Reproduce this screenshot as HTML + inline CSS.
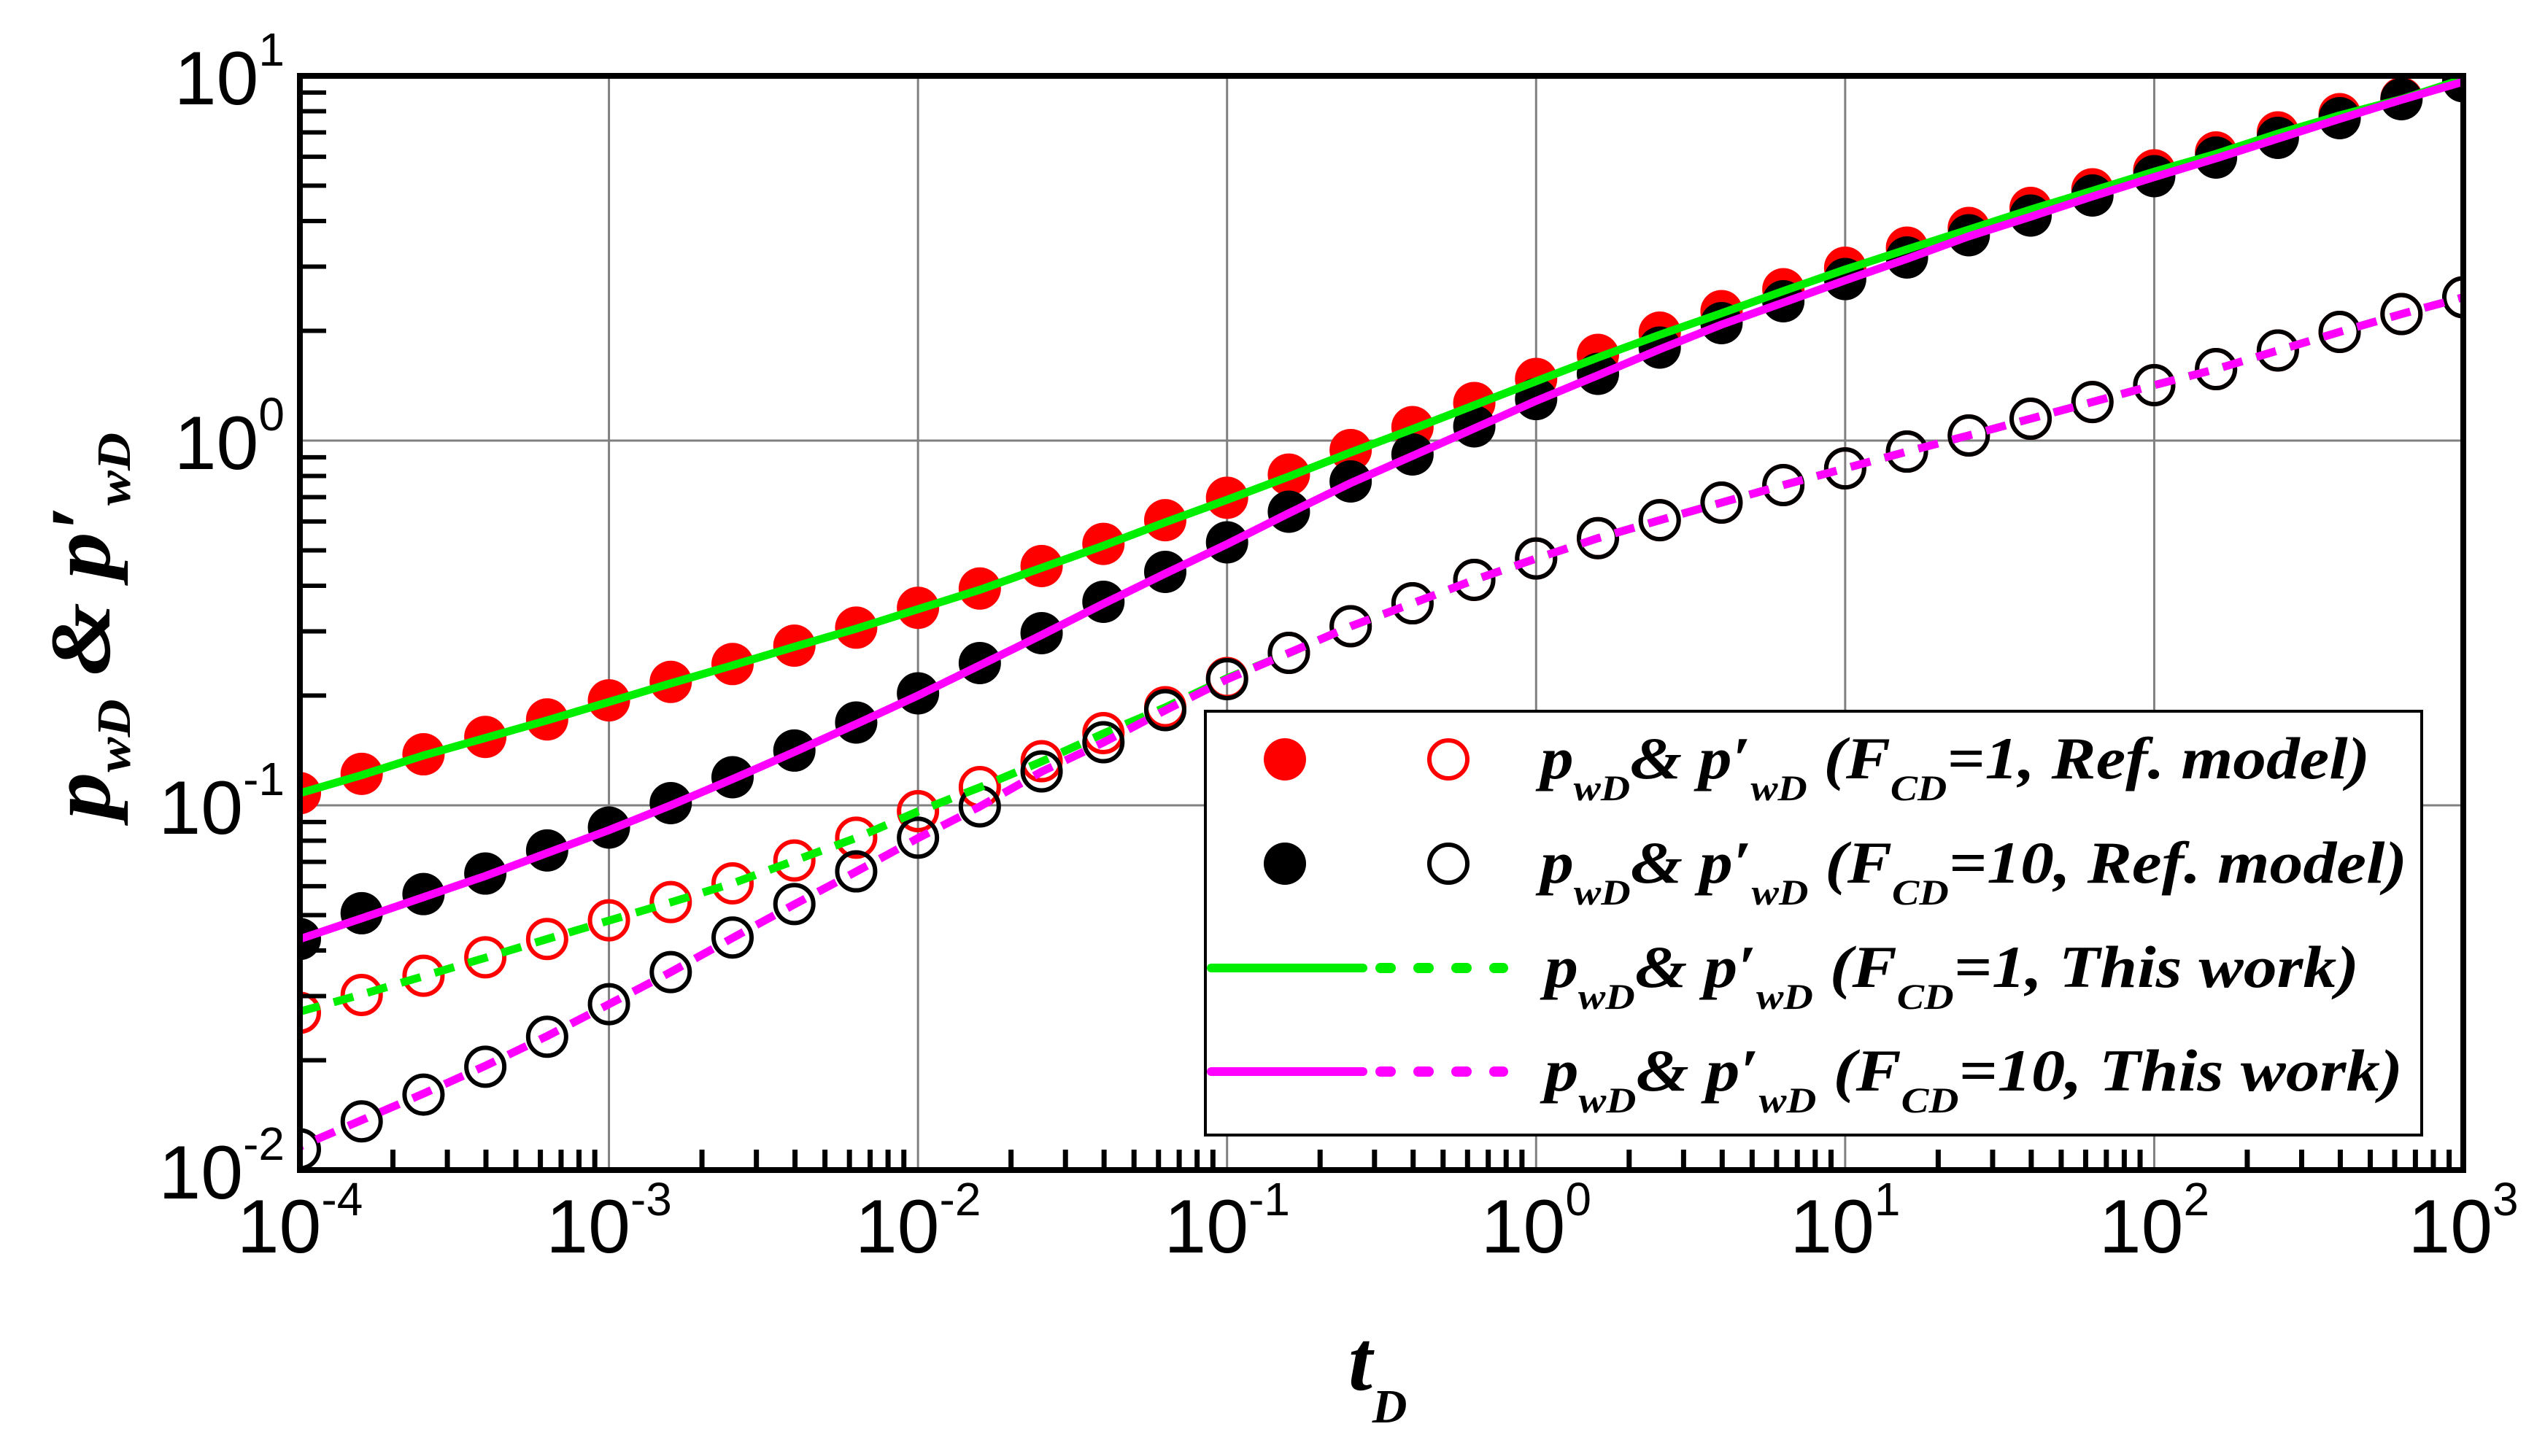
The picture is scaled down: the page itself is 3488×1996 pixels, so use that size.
<!DOCTYPE html>
<html><head><meta charset="utf-8"><style>
html,body{margin:0;padding:0;background:#fff;}
svg{display:block;}
.tk{font-family:"Liberation Sans",sans-serif;font-size:104px;fill:#000;}
.lg{font-family:"Liberation Serif",serif;font-weight:bold;font-style:italic;font-size:82px;fill:#000;}
</style></head><body>
<svg id="chart" width="3488" height="1996" viewBox="0 0 3488 1996" xmlns="http://www.w3.org/2000/svg">
<defs><clipPath id="pc"><rect x="411" y="104" width="2965" height="1500"/></clipPath></defs>
<rect width="3488" height="1996" fill="#fff"/>
<g id="grid"></g>
<g id="series" clip-path="url(#pc)"></g>
<g id="axes"></g>
<g id="legend"></g>
<text class="lg" x="1848" y="1905" style="font-size:118px">t<tspan dy="45" style="font-size:66px">D</tspan></text>
<text class="lg" transform="translate(150,1123) rotate(-90)" x="0" y="0" style="font-size:118px" textLength="530" lengthAdjust="spacingAndGlyphs">p<tspan dy="28" style="font-size:66px">wD</tspan><tspan dy="-28"> &amp; p′</tspan><tspan dy="28" style="font-size:66px">wD</tspan></text>
</svg>
<script>
const tD=[];
const tExp=[-4,-3.8,-3.6,-3.4,-3.2,-3,-2.8,-2.6,-2.4,-2.2,-2,-1.8,-1.6,-1.4,-1.2,-1,-0.8,-0.6,-0.4,-0.2,0,0.2,0.4,0.6,0.8,1,1.2,1.4,1.6,1.8,2,2.2,2.4,2.6,2.8,3];
const xTickLabels=["-4","-3","-2","-1","0","1","2","3"];
const yTickLabels=["-2","-1","0","1"];
const refP1=[0.108,0.122,0.138,0.154,0.172,0.194,0.218,0.244,0.274,0.307,0.348,0.393,0.453,0.521,0.605,0.697,0.807,0.942,1.089,1.268,1.476,1.718,1.977,2.265,2.600,2.979,3.381,3.828,4.345,4.887,5.508,6.166,6.998,7.852,8.690,9.886];
const refD1=[0.0270,0.0302,0.0341,0.0383,0.0430,0.0484,0.0543,0.0611,0.0706,0.0815,0.0964,0.1122,0.1321,0.1578,0.1858,0.2234,0.2618,0.3097,0.358,0.415,0.475,0.540,0.605,0.676,0.755,0.839,0.933,1.033,1.148,1.276,1.419,1.570,1.766,1.986,2.223,2.472];
const refP10=[0.0430,0.0506,0.0571,0.0650,0.0752,0.0869,0.1014,0.1194,0.1413,0.1687,0.2028,0.2455,0.2965,0.3614,0.4365,0.5260,0.6383,0.7727,0.9163,1.094,1.300,1.524,1.799,2.099,2.410,2.773,3.177,3.656,4.140,4.699,5.309,5.970,6.761,7.656,8.630,9.661];
const refD10=[0.0114,0.0136,0.0161,0.0192,0.0232,0.0285,0.0349,0.0434,0.0536,0.0659,0.0815,0.0993,0.1239,0.1489,0.1824,0.2218,0.2618,0.3097,0.358,0.415,0.475,0.540,0.605,0.676,0.755,0.839,0.933,1.033,1.148,1.276,1.419,1.570,1.766,1.986,2.223,2.472];
const workP1=[0.108,0.121,0.137,0.153,0.171,0.192,0.216,0.242,0.272,0.305,0.345,0.390,0.448,0.515,0.597,0.688,0.797,0.928,1.075,1.250,1.455,1.690,1.950,2.235,2.570,2.945,3.345,3.790,4.300,4.840,5.460,6.110,6.940,7.790,8.630,9.800];
const workD1=[0.0272,0.0303,0.0340,0.0382,0.0430,0.0483,0.0542,0.0611,0.0705,0.0814,0.0962,0.1120,0.1318,0.1574,0.1855,0.2230,0.2615,0.3095,0.358,0.415,0.475,0.540,0.605,0.676,0.755,0.839,0.933,1.033,1.148,1.276,1.419,1.570,1.766,1.986,2.223,2.472];
const workP10=[0.0430,0.0490,0.0560,0.0640,0.0740,0.0855,0.1000,0.1180,0.1400,0.1670,0.2000,0.2420,0.2930,0.3570,0.4320,0.5200,0.6320,0.7650,0.9080,1.080,1.285,1.510,1.780,2.080,2.390,2.750,3.150,3.630,4.110,4.670,5.280,5.940,6.730,7.620,8.600,9.640];
const workD10=[0.0116,0.0137,0.0162,0.0193,0.0233,0.0285,0.0349,0.0433,0.0535,0.0658,0.0813,0.0992,0.1237,0.1487,0.1822,0.2216,0.2617,0.3096,0.358,0.415,0.475,0.540,0.605,0.676,0.755,0.839,0.933,1.033,1.148,1.276,1.419,1.570,1.766,1.986,2.223,2.472];
for(const e of tExp) tD.push(Math.pow(10,e));

const NS='http://www.w3.org/2000/svg';
const X0=411,X1=3376,Y0=104,Y1=1604;
const xs=v=>X0+(Math.log10(v)+4)/7*(X1-X0);
const ys=v=>Y1-(Math.log10(v)+2)/3*(Y1-Y0);
function mk(tag,at,parent){const e=document.createElementNS(NS,tag);for(const k in at)e.setAttribute(k,at[k]);parent.appendChild(e);return e;}
const grid=document.getElementById('grid'),axes=document.getElementById('axes'),ser=document.getElementById('series'),leg=document.getElementById('legend');

for(let d=-3;d<=2;d++){const x=xs(Math.pow(10,d));
 const l=mk('line',{x1:x,y1:Y0,x2:x,y2:Y1,stroke:'#808080','stroke-width':3},grid);
 
 }
for(let d=-1;d<=0;d++){const y=ys(Math.pow(10,d));
 const l=mk('line',{x1:X0,y1:y,x2:X1,y2:y,stroke:'#808080','stroke-width':3},grid);
 
 }
for(let d=-4;d<3;d++)for(let m=2;m<=9;m++){const x=xs(m*Math.pow(10,d));
 const l=mk('line',{x1:x,y1:Y1,x2:x,y2:Y1-28,stroke:'#000','stroke-width':7},axes);
 
 }
for(let d=-2;d<1;d++)for(let m=2;m<=9;m++){const y=ys(m*Math.pow(10,d));
 const l=mk('line',{x1:X0,y1:y,x2:X0+36,y2:y,stroke:'#000','stroke-width':6},axes);
 
 }
const fr=mk('rect',{x:X0,y:Y0,width:X1-X0,height:Y1-Y0,fill:'none',stroke:'#000','stroke-width':8},axes);


xTickLabels.forEach(s=>{const x=xs(Math.pow(10,+s));
 const t=mk('text',{x:x,y:1717,'text-anchor':'middle',class:'tk'},axes);
 
 
 t.textContent='10';const sp=mk('tspan',{dy:-51,style:'font-size:64px'},t);sp.textContent=s;});
yTickLabels.forEach(s=>{const y=ys(Math.pow(10,+s));
 const t=mk('text',{x:390,y:y+39,'text-anchor':'end',class:'tk'},axes);
 
 
 t.textContent='10';const sp=mk('tspan',{dy:-53,style:'font-size:64px'},t);sp.textContent=s;});

function line(vals,color,dash,off,name){
 const d=vals.map((v,i)=>(i?'L':'M')+xs(tD[i]).toFixed(1)+','+ys(v).toFixed(1)).join('');
 const p=mk('path',{d:d,fill:'none',stroke:color,'stroke-width':11,'stroke-dasharray':dash,'stroke-dashoffset':off},ser);
 
 }
function dots(vals,fill,stroke,name){
 vals.forEach((v,i)=>{
  const c=mk('circle',{cx:xs(tD[i]),cy:ys(v),r:fill==='none'?26:29,fill:fill,stroke:stroke,'stroke-width':fill==='none'?6:0},ser);
  
  });}
dots(refP1,'#ff0000','none','ref-pwd-fcd1-point');
dots(refP10,'#000','none','ref-pwd-fcd10-point');
dots(refD1,'none','#ff0000','ref-dpwd-fcd1-point');
dots(refD10,'none','#000','ref-dpwd-fcd10-point');
line(workP1,'#00ee00','none',0,'work-pwd-fcd1-line');
line(workP10,'#ff00ff','none',0,'work-pwd-fcd10-line');
line(workD1,'#00ee00','28 20',0,'work-dpwd-fcd1-line');
line(workD10,'#ff00ff','28 20',24,'work-dpwd-fcd10-line');

const lb=mk('rect',{x:1652,y:975,width:1667,height:581,fill:'#fff',stroke:'#000','stroke-width':4},leg);


const rows=[[1041,'1, Ref. model)',3248],[1184,'10, Ref. model)',3299],[1327,'1, This work)',3233],[1469,'10, This work)',3293]];
rows.forEach((r,i)=>{const y=r[0];
 if(i<2){const col=i?'#000':'#ff0000';
  const a=mk('circle',{cx:1761,cy:y,r:29,fill:col},leg);
  
  
  const b=mk('circle',{cx:1985,cy:y,r:26,fill:'none',stroke:col,'stroke-width':6},leg);
  
  
 } else {const col=i==2?'#00ee00':'#ff00ff';
  const a=mk('line',{x1:1660,y1:y,x2:1868,y2:y,stroke:col,'stroke-width':12,'stroke-linecap':'round'},leg);
  
  
  const b=mk('line',{x1:1892,y1:y,x2:2060,y2:y,stroke:col,'stroke-width':14,'stroke-dasharray':'14 38','stroke-linecap':'round'},leg);
  
  }
 const x0=i<2?2111:2117;
 const t=mk('text',{x:x0,y:y+26,class:'lg',textLength:r[2]-x0,lengthAdjust:'spacingAndGlyphs'},leg);
 
 
 const parts=[['p',0,82],['wD',30,50],['& p′',-30,82],['wD',30,50],[' (F',-30,82],['CD',30,50],['='+r[1],-30,82]];
 parts.forEach(p=>{const s=mk('tspan',{dy:p[1],style:'font-size:'+p[2]+'px'},t);s.textContent=p[0];});
});
</script>
</body></html>
